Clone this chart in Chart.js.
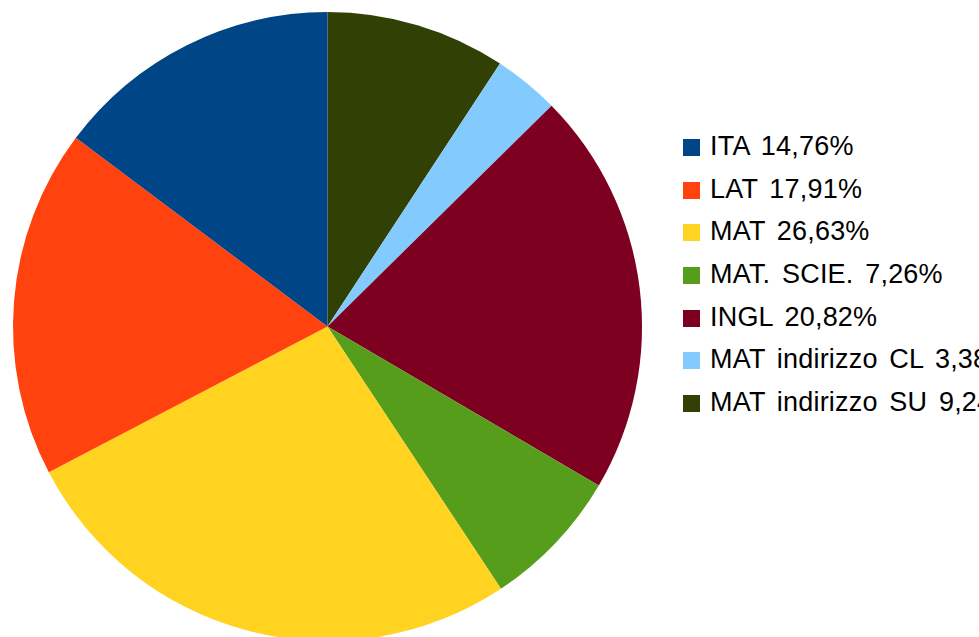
<!DOCTYPE html>
<html>
<head>
<meta charset="utf-8">
<script src="https://cdn.jsdelivr.net/npm/chart.js@4/dist/chart.umd.min.js"></script>
<style>
  html, body { margin: 0; padding: 0; background: #fff; overflow: hidden; width: 979px; height: 637px; }
  #torta { position: absolute; left: 0; top: 0; width: 655px; height: 653px; }
  #legenda { position: absolute; left: 683px; top: 125px; width: 296px; overflow: hidden;
    font-family: "Liberation Sans", Arial, sans-serif; font-size: 27px; color: #000;
    word-spacing: 4px; letter-spacing: 0.2px; }
  .voce { height: 42.7px; display: flex; align-items: center; white-space: nowrap; }
  .quad { width: 17px; height: 17px; margin-right: 10px; flex: none; position: relative; top: 1px; }
</style>
</head>
<body>
<div id="torta"><canvas id="grafico"></canvas></div>
<div id="legenda"></div>
<script>
const materie = ['ITA', 'LAT', 'MAT', 'MAT. SCIE.', 'INGL', 'MAT indirizzo CL', 'MAT indirizzo SU'];
const percentuali = [14.76, 17.91, 26.63, 7.26, 20.82, 3.38, 9.24];
const colori = ['#004586', '#ff420e', '#ffd320', '#579d1c', '#7e0021', '#83caff', '#314004'];

// la torta va in senso antiorario, quindi inverto l'ordine per Chart.js
const etichetteInv = materie.slice().reverse();
const valoriInv = percentuali.slice().reverse();
const coloriInv = colori.slice().reverse();

const ctx = document.getElementById('grafico').getContext('2d');
const graficoTorta = new Chart(ctx, {
  type: 'pie',
  data: {
    labels: etichetteInv,
    datasets: [{
      data: valoriInv,
      backgroundColor: coloriInv,
      borderWidth: 0
    }]
  },
  options: {
    responsive: true,
    maintainAspectRatio: false,
    animation: false,
    layout: { padding: { left: 13, right: 13, top: 12, bottom: 12 } },
    plugins: {
      legend: { display: false },
      tooltip: { enabled: false }
    }
  }
});

const legenda = document.getElementById('legenda');
materie.forEach(function (nome, i) {
  const riga = document.createElement('div');
  riga.className = 'voce';
  const quad = document.createElement('span');
  quad.className = 'quad';
  quad.style.background = colori[i];
  const testo = document.createElement('span');
  testo.textContent = nome + ' ' + percentuali[i].toFixed(2).replace('.', ',') + '%';
  riga.appendChild(quad);
  riga.appendChild(testo);
  legenda.appendChild(riga);
});
</script>
</body>
</html>
